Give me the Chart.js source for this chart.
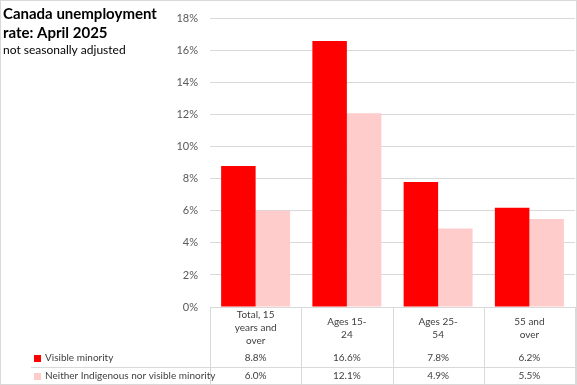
<!DOCTYPE html>
<html>
<head>
<meta charset="utf-8">
<script src="https://cdn.jsdelivr.net/npm/chart.js@4/dist/chart.umd.min.js"></script>
<style>
html,body{margin:0;padding:0;background:#fff;}
#wrap{position:relative;width:577px;height:385px;}
canvas{display:block;}
</style>
</head>
<body>
<div id="wrap"><canvas id="c" width="577" height="385"></canvas></div>
<script>
const titleLines = ["Canada unemployment", "rate: April 2025"];
const subtitle = "not seasonally adjusted";
const categories = [["Total, 15", "years and", "over"], ["Ages 15-", "24"], ["Ages 25-", "54"], ["55 and", "over"]];
const seriesNames = ["Visible minority", "Neither Indigenous nor visible minority"];
const visibleMinority = [8.8, 16.6, 7.8, 6.2];
const neitherIndigenous = [6.0, 12.1, 4.9, 5.5];
const seriesColors = ["#FF0000", "#FFCCCC"];
const yMax = 18, yStep = 2;

const FONT = "Lato, 'Liberation Sans', sans-serif";
const GRID = "#d9d9d9";
const TXT = "#404040";

const tablePlugin = {
  id: "tablePlugin",
  afterDraw(chart) {
    const ctx = chart.ctx;
    const xs = chart.scales.x;
    const area = chart.chartArea;
    const n = categories.length;
    const cw = (area.right - area.left) / n;
    ctx.save();
    ctx.strokeStyle = GRID;
    ctx.lineWidth = 1;
    ctx.strokeRect(0.5, 0.5, chart.width - 1, chart.height - 1);
    const top = Math.round(area.bottom);
    const bottom = chart.height - 1;
    ctx.beginPath();
    for (let i = 0; i <= n; i++) {
      const x = Math.round(area.left + i * cw) + 0.5;
      ctx.moveTo(x, top);
      ctx.lineTo(x, bottom);
    }
    ctx.moveTo(31, 367.5);
    ctx.lineTo(area.right, 367.5);
    ctx.stroke();

    ctx.fillStyle = TXT;
    ctx.font = "10px " + FONT;
    ctx.textAlign = "center";
    ctx.textBaseline = "middle";
    const lh = 12.8;
    const headerCenter = 328;
    categories.forEach((lines, i) => {
      const cx = xs.getPixelForValue(i);
      const y0 = headerCenter - (lines.length - 1) * lh / 2;
      lines.forEach((t, j) => ctx.fillText(t, cx, y0 + j * lh));
    });
    const rows = [visibleMinority, neitherIndigenous];
    const rowY = [358, 376];
    rows.forEach((vals, r) => {
      vals.forEach((v, i) => {
        ctx.fillText(v.toFixed(1) + "%", xs.getPixelForValue(i), rowY[r]);
      });
      ctx.fillStyle = seriesColors[r];
      ctx.fillRect(34, rowY[r] - 3, 7, 7);
      ctx.fillStyle = TXT;
      ctx.textAlign = "left";
      ctx.fillText(seriesNames[r], 45, rowY[r]);
      ctx.textAlign = "center";
    });

    ctx.textAlign = "left";
    ctx.textBaseline = "alphabetic";
    ctx.fillStyle = "#000";
    ctx.font = "bold 15px " + FONT;
    ctx.fillText(titleLines[0], 3, 19);
    ctx.fillText(titleLines[1], 3, 38);
    ctx.font = "12px " + FONT;
    ctx.fillText(subtitle, 3, 54);
    ctx.restore();
  }
};

new Chart(document.getElementById("c"), {
  type: "bar",
  data: {
    labels: categories,
    datasets: [
      { label: seriesNames[0], data: visibleMinority, backgroundColor: seriesColors[0], barPercentage: 1.0, categoryPercentage: 0.756 },
      { label: seriesNames[1], data: neitherIndigenous, backgroundColor: seriesColors[1], barPercentage: 1.0, categoryPercentage: 0.756 }
    ]
  },
  options: {
    responsive: false,
    animation: false,
    layout: { padding: { left: 0, right: 2, top: 10, bottom: 78 } },
    plugins: { legend: { display: false }, tooltip: { enabled: false }, title: { display: false } },
    scales: {
      x: { display: false },
      y: {
        min: 0, max: yMax,
        border: { display: false },
        grid: { color: GRID, drawTicks: false, lineWidth: 1 },
        ticks: {
          stepSize: yStep, padding: 12, color: "#595959",
          font: { family: FONT, size: 11 },
          callback: v => v + "%"
        },
        afterFit(scale) { scale.width = 210; }
      }
    }
  },
  plugins: [tablePlugin]
});
</script>
</body>
</html>
